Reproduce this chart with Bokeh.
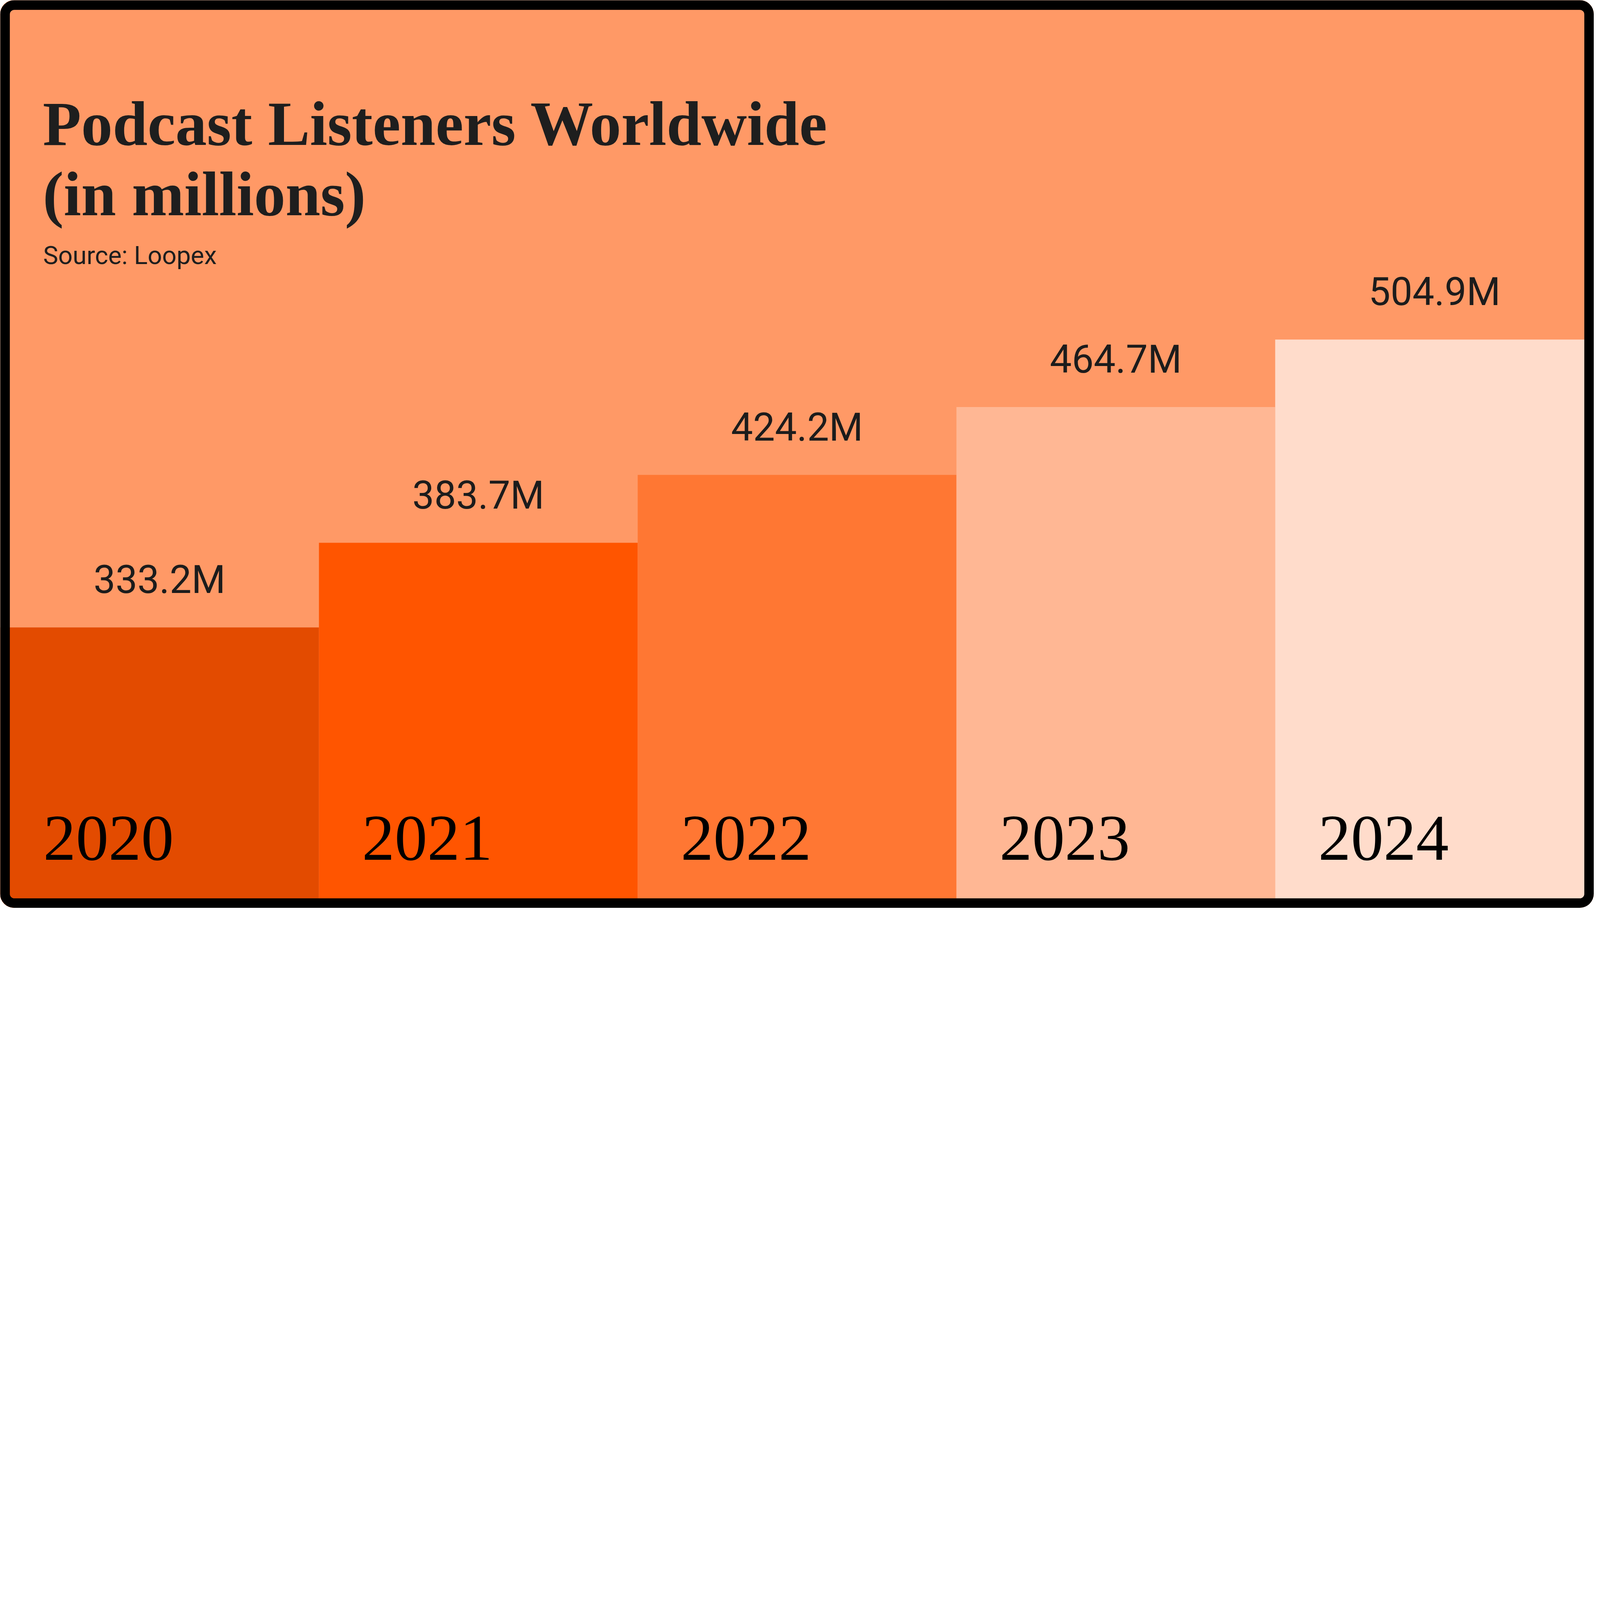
"""ポッドキャスト聴取者数の棒グラフ."""
import typing as typ

import bokeh.models as bm
import bokeh.plotting as bp
from bokeh.core.properties import value
from bokeh.embed import file_html
from bokeh.resources import INLINE
from bokeh.transform import dodge

# データ
years: typ.List[str] = ["2020", "2021", "2022", "2023", "2024"]
listeners: typ.List[float] = [333.2, 383.7, 424.2, 464.7, 504.9]
bar_colors: typ.List[str] = ["#E34B00", "#FF5500", "#FF7733", "#FFB794", "#FFDCCB"]
title_lines: typ.List[str] = ["Podcast Listeners Worldwide", "(in millions)"]
source_note: str = "Source: Loopex"

# 元画像(7935x4520)の座標をこの倍率で縮める
S: float = 4080 / 7935
WIDTH: int = 4080
HEIGHT: int = round(4520 * S)
Y_START: float = 165.9
Y_END: float = 707.3
BG: str = "#FF9966"
INK: str = "#1E1E1E"
SHIFT: float = 0.3  # alphabetic のずれ(em)


def px(v: float) -> float:
    """元画像のpxを縮める."""
    return v * S


def make_chart() -> bp.figure:
    """グラフを描く.

    Returns:
        figure
    """
    source: bm.ColumnDataSource = bm.ColumnDataSource(
        dict(
            year=years,
            listeners=listeners,
            label=[f"{v:.1f}M" for v in listeners],
            color=bar_colors,
        )
    )
    fig: bp.figure = bp.figure(
        x_range=bm.FactorRange(*years, range_padding=0),
        y_range=bm.Range1d(Y_START, Y_END),
        width=WIDTH,
        height=HEIGHT,
        output_backend="svg",
        toolbar_location=None,
        x_axis_location=None,
        y_axis_location=None,
        min_border=0,
        background_fill_color=BG,
        border_fill_color=BG,
        outline_line_color=None,
    )
    fig.grid.visible = False
    fig.styles = {"border-radius": f"{px(70):.0f}px", "overflow": "hidden"}

    fig.vbar(x="year", top="listeners", bottom=Y_START, width=1.0, fill_color="color", line_color=None, source=source)

    # 値ラベル
    val_size: float = px(194)
    fig.text(
        x="year",
        y="listeners",
        text="label",
        source=source,
        text_align="center",
        text_baseline="alphabetic",
        y_offset=-(px(180) + SHIFT * val_size),
        text_font=value("Roboto"),
        text_font_size=f"{val_size:.1f}px",
        text_color="#1C1C1C",
    )
    # 年ラベル
    year_size: float = px(325)
    fig.text(
        x=dodge("year", -0.365, range=fig.x_range),
        y=Y_START,
        text="year",
        source=source,
        text_align="left",
        text_baseline="alphabetic",
        y_offset=-(px(250) + SHIFT * year_size),
        text_font=value("Liberation Serif"),
        text_font_size=f"{year_size:.1f}px",
        text_color="#000000",
    )

    # タイトル
    title_size: float = px(313)
    for text, base in zip(title_lines, [710, 1059]):
        fig.add_layout(
            bm.Label(
                x=px(212),
                y=HEIGHT - px(base) + SHIFT * title_size,
                x_units="screen",
                y_units="screen",
                text=text,
                text_font="Liberation Serif",
                text_font_style="bold",
                text_font_size=f"{title_size:.1f}px",
                text_color=INK,
                text_baseline="alphabetic",
            )
        )
    note_size: float = px(126)
    fig.add_layout(
        bm.Label(
            x=px(214),
            y=HEIGHT - px(1308) + SHIFT * note_size,
            x_units="screen",
            y_units="screen",
            text=source_note,
            text_font="Roboto",
            text_font_size=f"{note_size:.1f}px",
            text_color=INK,
            text_baseline="alphabetic",
        )
    )

    # 枠
    frame_w: float = px(48)
    fig.add_layout(
        bm.BoxAnnotation(
            left=frame_w / 2,
            right=WIDTH - frame_w / 2,
            top=frame_w / 2,
            bottom=HEIGHT - frame_w / 2,
            left_units="screen",
            right_units="screen",
            top_units="screen",
            bottom_units="screen",
            fill_alpha=0,
            line_color="black",
            line_width=frame_w,
            line_alpha=1,
            border_radius=round(px(46)),
        )
    )
    return fig


def main() -> None:
    """メイン."""
    fig: bp.figure = make_chart()
    with open("out.html", "w") as f:
        f.write(file_html(fig, INLINE, title="Podcast Listeners Worldwide"))


if __name__ == "__main__":
    main()
